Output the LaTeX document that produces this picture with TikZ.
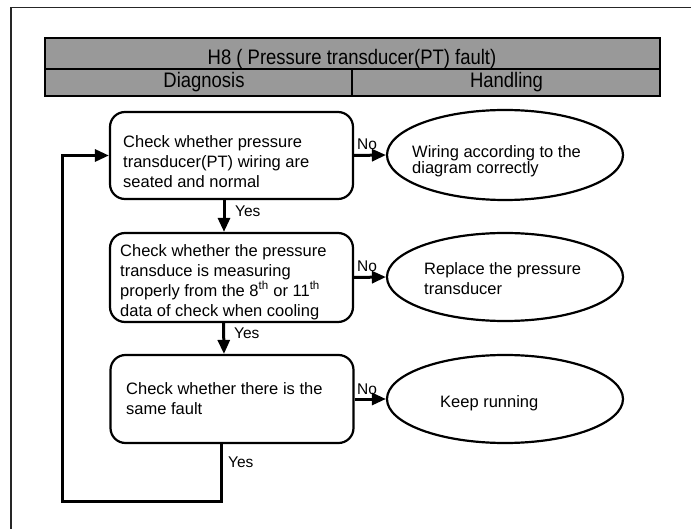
\documentclass[tikz,border=0pt]{standalone}
\usepackage{fontspec}
\setmainfont{Liberation Sans}
\newfontfamily\headfont[FakeStretch=0.88]{Liberation Sans}
\usetikzlibrary{arrows.meta,shapes.geometric}
\definecolor{headgray}{HTML}{999999}
\begin{document}
\begin{tikzpicture}[x=1pt,y=-1pt,
  frameline/.style={line width=1.3pt,draw=black!85},
  hcell/.style={draw,line width=2.2pt,fill=headgray,inner sep=0pt},
  htext/.style={font=\headfont\fontsize{21}{24}\selectfont,inner sep=0pt},
  stepbox/.style={draw,line width=2.2pt,rounded corners=15pt,minimum width=243pt,inner sep=0pt},
  oval/.style={draw,ellipse,line width=2.2pt,minimum width=236pt,inner sep=0pt},
  btext/.style={font=\fontsize{16.5}{20}\selectfont,align=left,inner sep=0pt,anchor=north west},
  lbl/.style={font=\fontsize{15.5}{18}\selectfont,inner sep=0pt,anchor=base west},
  flow/.style={line width=3pt,-{Triangle[length=14pt,width=12pt]}},
]
\useasboundingbox (0,0) rectangle (691,529);
% partial outer frame
\draw[frameline] (691,7.5) -- (11,7.5) -- (11,529);

% header table
\node[hcell,minimum width=615pt,minimum height=31pt] (hT) at (352.5,53.5) {};
\node[hcell,minimum width=307pt,minimum height=27pt] (hD) at (198.5,82.5) {};
\node[hcell,minimum width=308pt,minimum height=27pt] (hH) at (506,82.5) {};
\node[htext,anchor=base] (hTt) at (352,65) {H8 ( Pressure transducer(PT) fault)};
\node[htext,anchor=base] (hDt) at (204,87.5) {Diagnosis};
\node[htext,anchor=base] (hHt) at (506.5,87.5) {Handling};

% diagnosis boxes
\node[stepbox,minimum height=87pt] (b1) at (231.5,155.5) {};
\node[stepbox,minimum height=89pt] (b2) at (231.5,277.5) {};
\node[stepbox,minimum height=88pt] (b3) at (232,399) {};
\node[btext] (t1) at (123,135) {Check whether pressure\\transducer(PT) wiring are\\seated and normal};
\node[btext] (t2) at (120,244) {Check whether the pressure\\transduce is measuring\\properly from the 8\textsuperscript{th} or 11\textsuperscript{th}\\data of check when cooling};
\node[btext] (t3) at (126,382) {Check whether there is the\\same fault};

% handling ovals
\node[oval,minimum height=90pt] (e1) at (505,155) {};
\node[oval,minimum height=88pt] (e2) at (505,277) {};
\node[oval,minimum height=88pt] (e3) at (505,399) {};
\node[btext,font=\fontsize{16.5}{15}\selectfont] (u1) at (412,145) {Wiring according to the\\diagram correctly};
\node[btext] (u2) at (424,262) {Replace the pressure\\transducer};
\node[btext,anchor=base west] (u3) at (440,407) {Keep running};

% connectors
\draw[flow] (b1.east) -- (e1.west);
\draw[flow] (b2.east) -- (e2.west);
\draw[flow] (b3.east) -- (e3.west);
\draw[flow] ([xshift=-7.5pt]b1.south) -- ([xshift=-7.5pt]b2.north);
\draw[flow] ([xshift=-8pt]b2.south) -- ([xshift=-8pt]b3.north);
\coordinate (c1) at (62,501);
\draw[flow,line join=miter] ([xshift=-11pt]b3.south) |- (c1) |- (b1.west);

% labels
\node[lbl] (n1) at (357,150) {No};
\node[lbl] (n2) at (357,272) {No};
\node[lbl] (n3) at (357,394) {No};
\node[lbl] (y1) at (235,217) {Yes};
\node[lbl] (y2) at (234,339) {Yes};
\node[lbl] (y3) at (228,467) {Yes};
\end{tikzpicture}
\end{document}
